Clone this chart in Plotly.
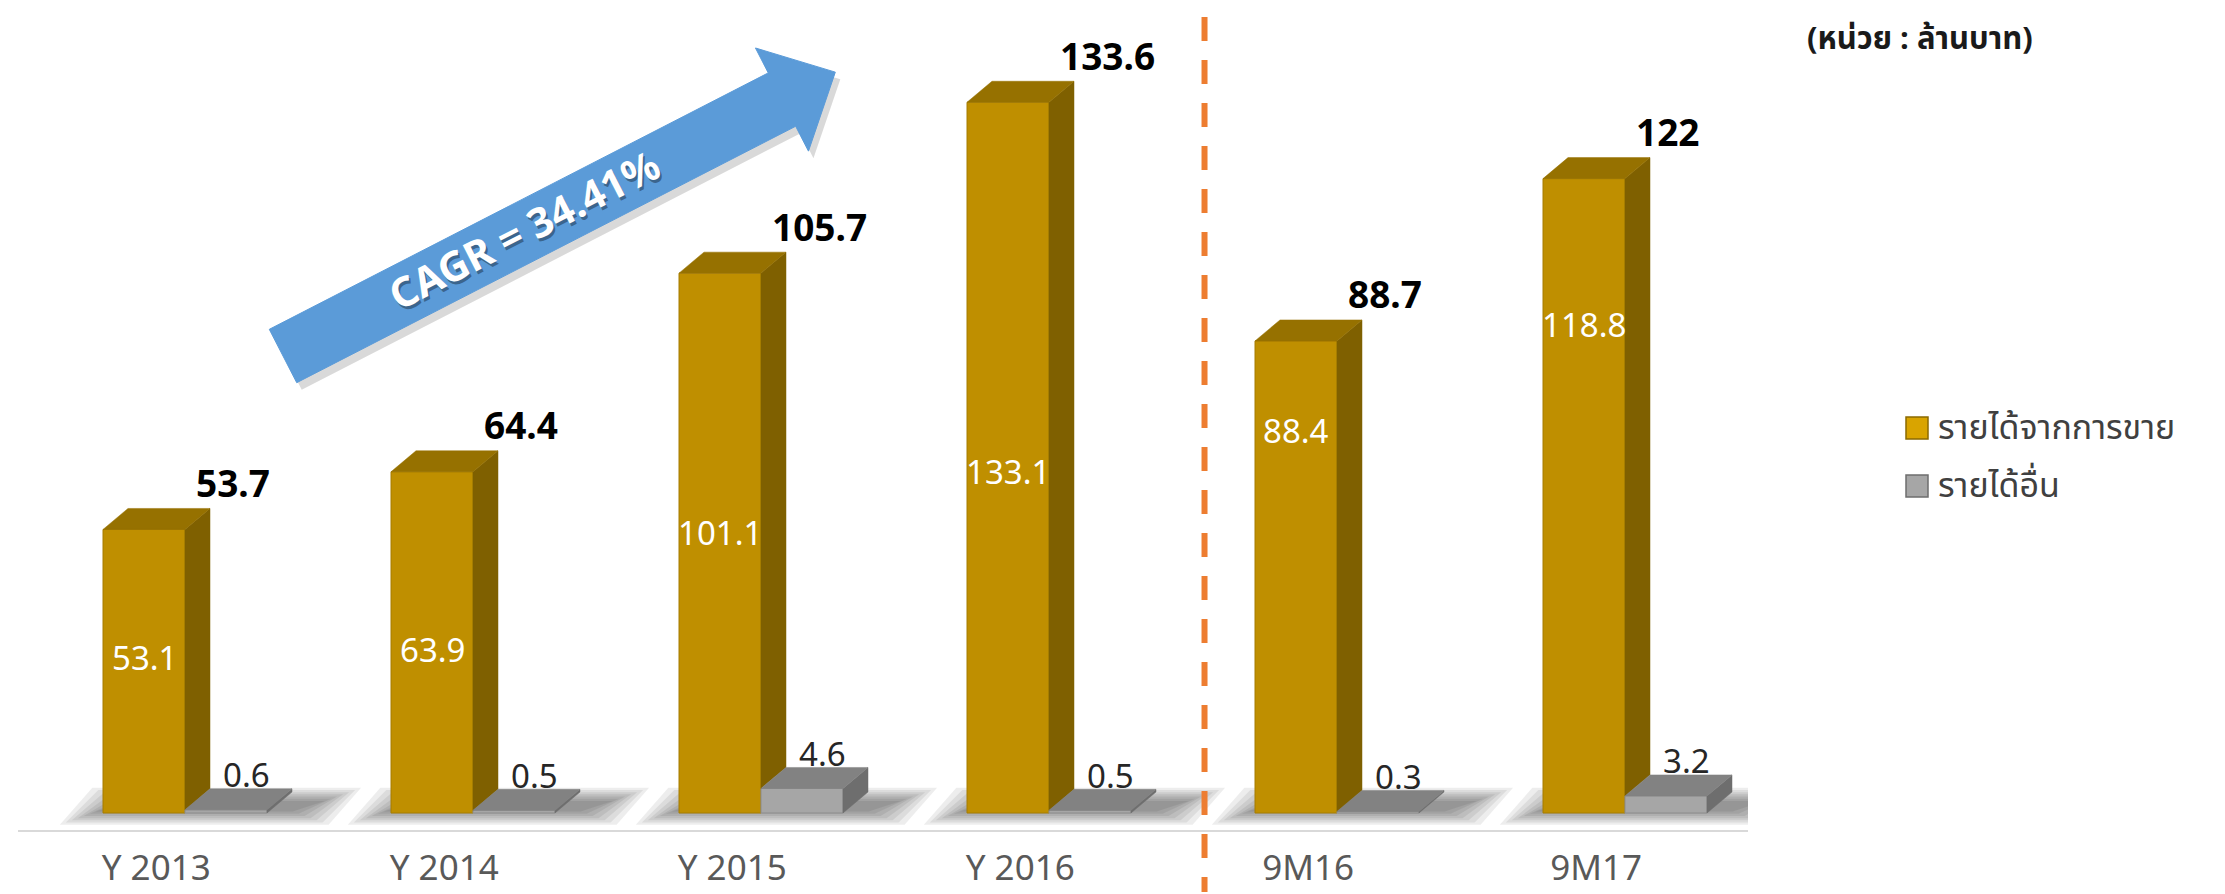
import math
import numpy as np
import plotly.graph_objects as go

# ---------------- data ----------------
categories = ["Y 2013", "Y 2014", "Y 2015", "Y 2016", "9M16", "9M17"]
sales = [53.1, 63.9, 101.1, 133.1, 88.4, 118.8]
other = [0.6, 0.5, 4.6, 0.5, 0.3, 3.2]
totals = ["53.7", "64.4", "105.7", "133.6", "88.7", "122"]
series_names = ["รายได้จากการขาย", "รายได้อื่น"]
unit_text = "(หน่วย : ล้านบาท)"
cagr_text = "CAGR = 34.41%"

# ---------------- layout geometry ----------------
W, H = 2225, 894
ML, MR, MT, MB = 10, 485, 0, 72
PW, PH = W - ML - MR, H - MT - MB
PX_X = 288.0          # px per category
PX_Y = 5.34           # px per unit
X0_PX, Y0_PX = 177, 805
xmin = -(X0_PX - ML) / PX_X
xmax = xmin + PW / PX_X
ymin = -(MT + PH - Y0_PX) / PX_Y
ymax = ymin + PH / PX_Y

BW = 82 / PX_X        # bar width in x units
DX = 25 / PX_X        # depth offset
DY = 21 / PX_Y

inner_pos = [0.45, 0.52, 0.48, 0.52, 0.19, 0.23]   # label position from top of bar

THAI = "Noto Sans Thai, Noto Sans Thai UI, Noto Sans, Tahoma, sans-serif"
NUM = "Noto Sans, Roboto, sans-serif"

def px(xp):
    return (xp - ML) / PW

def py(yp):
    return (MT + PH - yp) / PH

x = np.arange(len(categories))

GOLD, GOLD_SIDE, GOLD_TOP = "#BF8F00", "#7F6000", "#967100"
GRAY, GRAY_SIDE, GRAY_TOP = "#A6A6A6", "#6E6E6E", "#828282"

fig = go.Figure()

# front faces
fig.add_trace(go.Bar(x=x, y=sales, width=BW, offset=-BW, name=series_names[0],
                     marker=dict(color=GOLD, line=dict(color="#A67C00", width=1)),
                     showlegend=False, hoverinfo="skip"))
fig.add_trace(go.Bar(x=x, y=other, width=BW, offset=0, name=series_names[1],
                     marker=dict(color=GRAY, line=dict(color="#8C8C8C", width=1)),
                     showlegend=False, hoverinfo="skip"))

def poly_trace(polys, color):
    xs, ys = [], []
    for p in polys:
        for (a, b) in p + [p[0]]:
            xs.append(a)
            ys.append(b)
        xs.append(None)
        ys.append(None)
    return go.Scatter(x=xs, y=ys, mode="lines", fill="toself", fillcolor=color,
                      line=dict(color=color, width=0.5), showlegend=False, hoverinfo="skip")

gold_side = [[(i, o), (i + DX, o + DY), (i + DX, s + DY), (i, s)] for i, s, o in zip(x, sales, other)]
gold_top = [[(i - BW, s), (i, s), (i + DX, s + DY), (i - BW + DX, s + DY)] for i, s in zip(x, sales)]
gray_side = [[(i + BW, 0), (i + BW + DX, DY), (i + BW + DX, o + DY), (i + BW, o)] for i, o in zip(x, other)]
gray_top = [[(i, o), (i + BW, o), (i + BW + DX, o + DY), (i + DX, o + DY)] for i, o in zip(x, other)]

fig.add_trace(poly_trace(gold_side, GOLD_SIDE))
fig.add_trace(poly_trace(gold_top, GOLD_TOP))
fig.add_trace(poly_trace(gray_side, GRAY_SIDE))
fig.add_trace(poly_trace(gray_top, GRAY_TOP))

shapes = []
# floor shadows (layered for soft look)
for i in x:
    for k in range(7):
        e = k * 6 / PX_X
        ey = k * 2.2 / PX_Y
        x0, x1 = i - BW - 0.15 + e, i + BW + DX + 0.24 - e
        y0, y1 = -2.2 + ey, DY + 0.8 - ey
        sk = DX * 1.3
        path = f"M{x0},{y0} L{x1 - sk},{y0} L{x1},{y1} L{x0 + sk},{y1} Z"
        shapes.append(dict(type="path", path=path, xref="x", yref="y", layer="below",
                           fillcolor="rgba(0,0,0,0.07)", line=dict(width=0)))

# dashed separator
shapes.append(dict(type="line", xref="x", yref="paper", x0=3.54, x1=3.54, y0=py(9), y1=py(884),
                   line=dict(color="#ED7D31", width=6, dash="24px,19px")))

# CAGR arrow
ang = math.radians(27.2)
u = (math.cos(ang), -math.sin(ang))
n = (math.sin(ang), math.cos(ang))
S = (275, 348)
L, HL, HW, BH = 621, 60, 58, 30
def P(t, w):
    return (S[0] + t * u[0] + w * n[0], S[1] + t * u[1] + w * n[1])
pts = [P(0, -BH), P(L - HL, -BH), P(L - HL, -HW), P(L, 0), P(L - HL, HW), P(L - HL, BH), P(0, BH)]
def arrow_path(dx=0, dy=0):
    return "M" + " L".join(f"{px(a + dx):.5f},{py(b + dy):.5f}" for a, b in pts) + " Z"
shapes.append(dict(type="path", path=arrow_path(5, 7), xref="paper", yref="paper",
                   fillcolor="rgba(0,0,0,0.15)", line=dict(width=0)))
shapes.append(dict(type="path", path=arrow_path(), xref="paper", yref="paper",
                   fillcolor="#5B9BD8", line=dict(color="#5B9BD8", width=1)))

# legend squares
legend_rows = [420, 478]
legend_cols = [("#D9A400", "#8A6A00"), ("#A6A6A6", "#6E6E6E")]
for yr, (fc, lc) in zip(legend_rows, legend_cols):
    shapes.append(dict(type="rect", xref="paper", yref="paper", x0=px(1898), x1=px(1920),
                       y0=py(yr + 11), y1=py(yr - 11), fillcolor=fc, line=dict(color=lc, width=1.5)))

annotations = []
# inside labels
for i, s, f in zip(x, sales, inner_pos):
    annotations.append(dict(x=i - BW / 2, y=s * (1 - f), xref="x", yref="y", text=f"{s}",
                            xanchor="center", yanchor="middle",
                            showarrow=False, font=dict(family=NUM, size=33, color="white")))
# other revenue labels
for i, o in zip(x, other):
    annotations.append(dict(x=i + BW / 2 + 20 / PX_X, y=o, xref="x", yref="y", text=f"{o}",
                            xanchor="center", yanchor="middle",
                            yshift=35, showarrow=False, font=dict(family=NUM, size=33, color="#262626")))
# totals
for i, s, t in zip(x, sales, totals):
    annotations.append(dict(x=i + 0.03, y=s, xref="x", yref="y", text=f"<b>{t}</b>", xanchor="left",
                            yanchor="middle",
                            yshift=47, showarrow=False, font=dict(family=NUM, size=37, color="black")))
# unit text
annotations.append(dict(x=px(1797), y=py(32), xref="paper", yref="paper", text=f"<b>{unit_text}</b>",
                        xanchor="left", yanchor="middle", showarrow=False,
                        font=dict(family=THAI, size=31, color="#1a1a1a")))
# legend texts
for yr, name in zip(legend_rows, series_names):
    annotations.append(dict(x=px(1928), y=py(yr), xref="paper", yref="paper", text=name, xanchor="left",
                            yanchor="middle", showarrow=False,
                            font=dict(family=THAI, size=34, color="#404040")))
# CAGR text (shadow + text)
tc = P(272, -3)
for off, col in [((2, 3), "rgba(0,0,0,0.35)"), ((0, 0), "white")]:
    annotations.append(dict(x=px(tc[0] + off[0]), y=py(tc[1] + off[1]), xref="paper", yref="paper",
                            text=f"<b>{cagr_text}</b>", xanchor="center", yanchor="middle",
                            textangle=-27.2, showarrow=False, font=dict(family=NUM, size=41, color=col)))

fig.update_layout(
    width=W, height=H,
    margin=dict(l=ML, r=MR, t=MT, b=MB, autoexpand=False),
    paper_bgcolor="white", plot_bgcolor="white",
    barmode="overlay",
    shapes=shapes, annotations=annotations,
    showlegend=False,
    xaxis=dict(range=[xmin, xmax], tickvals=[i - 0.1 for i in x], ticktext=categories,
               showgrid=False, zeroline=False, showline=True, linecolor="#D9D9D9", linewidth=2,
               automargin=False,
               ticks="outside", ticklen=6, tickcolor="rgba(0,0,0,0)",
               tickfont=dict(family=NUM, size=35, color="#595959")),
    yaxis=dict(range=[ymin, ymax], visible=False, showgrid=False, zeroline=False),
)

fig.write_html("out.html")
